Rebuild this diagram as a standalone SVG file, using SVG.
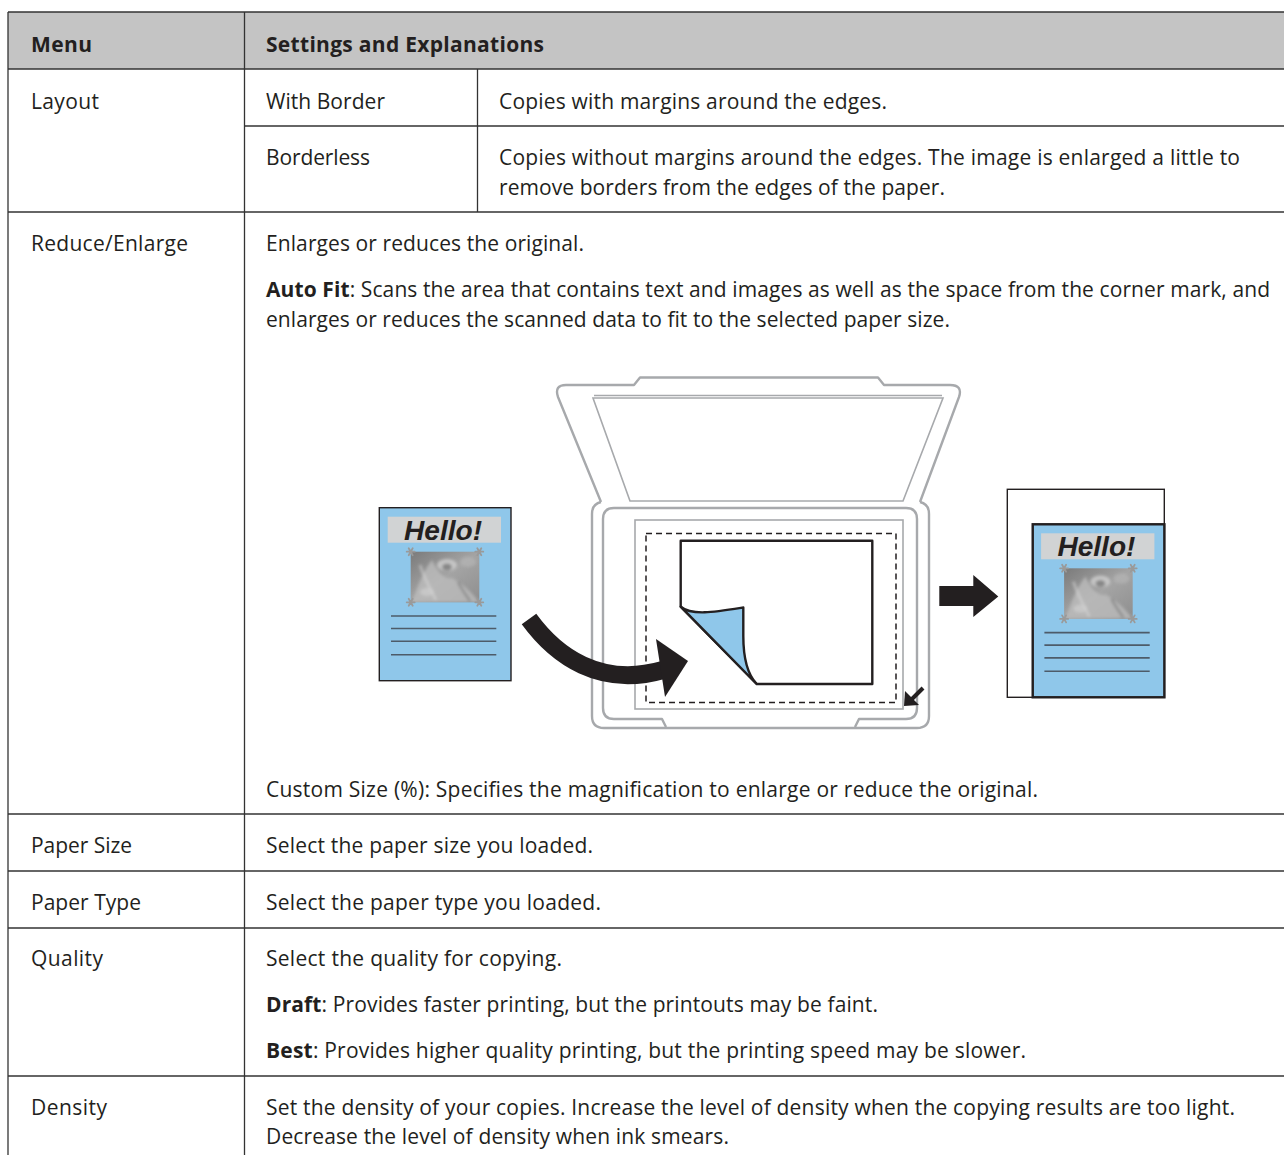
<svg xmlns="http://www.w3.org/2000/svg" width="1284" height="1155" viewBox="0 0 1284 1155">
<style>
  .t { font-family: "Open Sans", "Liberation Sans", sans-serif; font-size: 21px; fill: #231f20; }
  .b { font-weight: bold; }
  .grid { stroke: #333; stroke-width: 1.3; fill: none; }
  .scan { fill: none; stroke: #a7a9ac; stroke-width: 2.4; stroke-linejoin: round; }
  .scanthin { fill: none; stroke: #a7a9ac; stroke-width: 1.6; }
  .ink { stroke: #231f20; stroke-width: 2.4; stroke-linejoin: round; }
  .tl { stroke: #4d5b69; stroke-width: 1.6; }
  .ast { stroke: #9a9a9a; stroke-width: 1.8; stroke-linecap: round; }
  .hello { font-family: "Liberation Sans", Arial, sans-serif; font-weight: bold; font-style: italic; font-size: 27px; fill: #231f20; }
</style>
<defs>
  <linearGradient id="ph" x1="0" y1="0" x2="1" y2="1">
    <stop offset="0" stop-color="#7a7a7a"/>
    <stop offset="0.5" stop-color="#a4a4a4"/>
    <stop offset="1" stop-color="#8e8e8e"/>
  </linearGradient>
  <filter id="blur" x="-10%" y="-10%" width="120%" height="120%">
    <feGaussianBlur stdDeviation="1.4"/>
  </filter>
  <clipPath id="phclip"><rect x="410.7" y="551.7" width="68.6" height="50.6"/></clipPath>
  <g id="doc">
    <rect x="379.3" y="507.7" width="131.7" height="173" fill="#8fc7ea" stroke="#231f20" stroke-width="1.4"/>
    <rect x="387.7" y="516.7" width="113.3" height="26" fill="#d1d3d4"/>
    <text class="hello" x="404" y="539.5" textLength="78" lengthAdjust="spacingAndGlyphs">Hello!</text>
    <rect x="410.7" y="551.7" width="68.6" height="50.6" fill="url(#ph)"/>
    <g clip-path="url(#phclip)" filter="url(#blur)">
      <path d="M412 602 C418 585 424 570 432 560 C438 572 444 580 452 578 C460 582 470 590 479 602 Z" fill="#bcbcbc" opacity="0.8"/>
      <ellipse cx="447" cy="565" rx="10" ry="6" fill="#cfcfcf" opacity="0.8"/>
      <ellipse cx="447" cy="567" rx="5" ry="3.5" fill="#6e6e6e" opacity="0.7"/>
      <path d="M420 565 C424 578 430 588 436 600" stroke="#d8d8d8" stroke-width="2.5" fill="none" opacity="0.6"/>
      <path d="M458 582 C462 590 466 595 470 601" stroke="#6a6a6a" stroke-width="2.5" fill="none" opacity="0.5"/>
      <ellipse cx="427" cy="592" rx="7" ry="4" fill="#d2d2d2" opacity="0.6"/>
      <ellipse cx="468" cy="562" rx="8" ry="5" fill="#b8b8b8" opacity="0.6"/>
    </g>
    <g class="ast">
      <path d="M406.7 551.7h8 M408.7 548.2l4 7 M408.7 555.2l4 -7"/>
      <path d="M475.3 551.7h8 M477.3 548.2l4 7 M477.3 555.2l4 -7"/>
      <path d="M406.7 602.3h8 M408.7 598.8l4 7 M408.7 605.8l4 -7"/>
      <path d="M475.3 602.3h8 M477.3 598.8l4 7 M477.3 605.8l4 -7"/>
    </g>
    <g class="tl">
      <line x1="391" y1="616" x2="496.3" y2="616"/>
      <line x1="391" y1="628.5" x2="496.3" y2="628.5"/>
      <line x1="391" y1="641.3" x2="496.3" y2="641.3"/>
      <line x1="391" y1="654.7" x2="496.3" y2="654.7"/>
    </g>
  </g>
</defs>

<!-- table grid -->
<g id="table">
  <rect x="8" y="12" width="1276" height="57" fill="#c4c4c4"/>
  <g class="grid">
    <line x1="8" y1="12" x2="1284" y2="12"/>
    <line x1="8" y1="69" x2="1284" y2="69"/>
    <line x1="244" y1="126" x2="1284" y2="126"/>
    <line x1="8" y1="212" x2="1284" y2="212"/>
    <line x1="8" y1="814" x2="1284" y2="814"/>
    <line x1="8" y1="871" x2="1284" y2="871"/>
    <line x1="8" y1="928" x2="1284" y2="928"/>
    <line x1="8" y1="1076" x2="1284" y2="1076"/>
    <line x1="8" y1="12" x2="8" y2="1155"/>
    <line x1="244.5" y1="12" x2="244.5" y2="1155"/>
    <line x1="477.5" y1="69" x2="477.5" y2="212"/>
  </g>
</g>

<g id="header">
  <text class="t b" x="31" y="52" textLength="61">Menu</text>
  <text class="t b" x="266" y="52" textLength="278">Settings and Explanations</text>
</g>

<g id="row-layout">
  <text class="t" x="31" y="108.5" textLength="68">Layout</text>
  <text class="t" x="266" y="108.5" textLength="119">With Border</text>
  <text class="t" x="499" y="108.5" textLength="388">Copies with margins around the edges.</text>
  <text class="t" x="266" y="164.5" textLength="104">Borderless</text>
  <text class="t" x="499" y="164.5" textLength="741">Copies without margins around the edges. The image is enlarged a little to</text>
  <text class="t" x="499" y="194.5" textLength="446">remove borders from the edges of the paper.</text>
</g>

<g id="row-reduce">
  <text class="t" x="31" y="250.5" textLength="157">Reduce/Enlarge</text>
  <text class="t" x="266" y="250.5" textLength="318">Enlarges or reduces the original.</text>
  <text class="t" x="266" y="296.5" textLength="1004"><tspan class="b">Auto Fit</tspan>: Scans the area that contains text and images as well as the space from the corner mark, and</text>
  <text class="t" x="266" y="326.5" textLength="684">enlarges or reduces the scanned data to fit to the selected paper size.</text>
  <text class="t" x="266" y="796.5" textLength="772">Custom Size (%): Specifies the magnification to enlarge or reduce the original.</text>
</g>

<!-- illustration -->
<g id="illustration">
  <use href="#doc"/>
  <!-- scanner -->
  <path class="scan" d="M601 502 Q592 504 592 514 L592 716 Q592 728 604 728 L917 728 Q929 728 929 716 L929 514 Q929 504 920 502" fill="#fff"/>
  <path class="scan" d="M601 502 L558 397 Q554 385 566 385 L634 385 L640 377.5 L878 377.5 L884 385 L950 385 Q963 385 959 397 L920 502" fill="#fff"/>
  <polygon class="scanthin" points="593,398 943,398 903,501 630,501"/>
  <line class="scanthin" x1="594" y1="395.5" x2="942" y2="395.5"/>
  <path class="scan" d="M666 727 L662 719 L614 719 Q603 719 603 708 L603 519 Q603 508 614 508 L906 508 Q917 508 917 519 L917 708 Q917 719 906 719 L859 719 L855 727"/>
  <rect class="scanthin" x="635" y="520" width="268" height="189"/>
  <rect x="646" y="533.5" width="250" height="169" fill="none" stroke="#231f20" stroke-width="1.5" stroke-dasharray="6 4"/>
  <path class="ink" d="M680.7 540.7 L872.3 540.7 L872.3 684 L756.7 684 L680.7 606.7 Z" fill="#fff"/>
  <path class="ink" d="M680.7 606.7 C692 616 715 612 743.3 607.5 L743.3 636 C743.3 660 749 676 756.7 684 Z" fill="#8fc7ea"/>
  <!-- curved arrow -->
  <path d="M529 619 C556 656 600 688 663 670" fill="none" stroke="#231f20" stroke-width="18"/>
  <polygon points="656,639 688,661 665,697" fill="#231f20"/>
  <!-- corner mark arrow -->
  <line x1="923" y1="688" x2="911" y2="700" stroke="#231f20" stroke-width="4"/>
  <polygon points="904,706 905,691 919,705" fill="#231f20"/>
  <!-- right arrow -->
  <polygon points="939.3,586 973.3,586 973.3,575 998.3,596.5 973.3,617 973.3,606 939.3,606" fill="#231f20"/>
  <!-- output page -->
  <rect x="1007.3" y="489.3" width="157" height="208" fill="#fff" stroke="#231f20" stroke-width="1.4"/>
  <use href="#doc" transform="translate(653.4 16.6)"/>
  <rect x="1032.7" y="524.3" width="131.7" height="173" fill="none" stroke="#231f20" stroke-width="2.4"/>
</g>

<g id="row-papersize">
  <text class="t" x="31" y="853" textLength="101">Paper Size</text>
  <text class="t" x="266" y="853" textLength="327">Select the paper size you loaded.</text>
</g>
<g id="row-papertype">
  <text class="t" x="31" y="910" textLength="110">Paper Type</text>
  <text class="t" x="266" y="910" textLength="335">Select the paper type you loaded.</text>
</g>
<g id="row-quality">
  <text class="t" x="31" y="966" textLength="72">Quality</text>
  <text class="t" x="266" y="966" textLength="296">Select the quality for copying.</text>
  <text class="t" x="266" y="1012" textLength="612"><tspan class="b">Draft</tspan>: Provides faster printing, but the printouts may be faint.</text>
  <text class="t" x="266" y="1058" textLength="760"><tspan class="b">Best</tspan>: Provides higher quality printing, but the printing speed may be slower.</text>
</g>
<g id="row-density">
  <text class="t" x="31" y="1115" textLength="76">Density</text>
  <text class="t" x="266" y="1115" textLength="969">Set the density of your copies. Increase the level of density when the copying results are too light.</text>
  <text class="t" x="266" y="1144" textLength="463">Decrease the level of density when ink smears.</text>
</g>
</svg>
